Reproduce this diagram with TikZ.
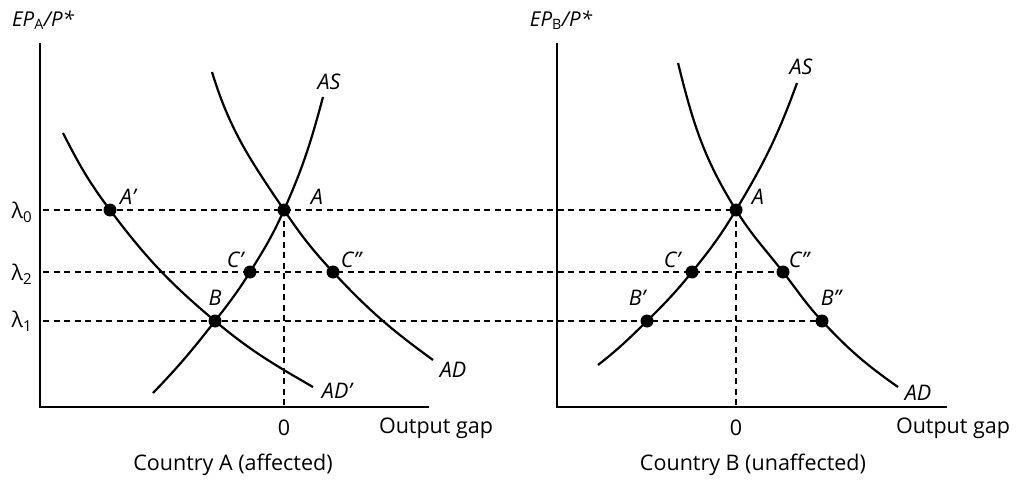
\documentclass[tikz,border=0pt]{standalone}
\usepackage{fontspec}
\setmainfont{Open Sans}
\begin{document}
\begin{tikzpicture}[x=1pt,y=-1pt,
  curve/.style={line width=2.2pt},
  axisline/.style={line width=2pt},
  guide/.style={line width=1.5pt, dash pattern=on 6pt off 4.5pt},
  dot/.style={circle, fill=black, inner sep=0pt, minimum size=13pt},
  lbl/.style={font=\fontsize{21.5}{24}\selectfont\itshape, inner sep=0pt},
  txt/.style={font=\fontsize{21.5}{24}\selectfont, inner sep=0pt},
]
\useasboundingbox (0,0) rectangle (1019,481);

% ---------- coordinates ----------
% left panel
\coordinate (LO) at (40,407);
\coordinate (LYtop) at (40,43);
\coordinate (LXend) at (429,407);
\coordinate (g0) at (43,210);
\coordinate (g2) at (43,272);
\coordinate (g1) at (43,321);
\coordinate (LAfoot) at (284,407);
% right panel
\coordinate (RO) at (557,407);
\coordinate (RYtop) at (557,43);
\coordinate (RXend) at (947,407);
\coordinate (RAfoot) at (736,407);

% curve end points
\coordinate (LASs) at (153,393);
\coordinate (LASe) at (323,97);
\coordinate (LADs) at (212,72);
\coordinate (LADe) at (433,360);
\coordinate (LAD1s) at (63,133);
\coordinate (LAD1e) at (313,387);
\coordinate (RASs) at (598,365);
\coordinate (RASe) at (797,83);
\coordinate (RADs) at (678,63);
\coordinate (RADe) at (898,387);

% dot positions
\coordinate (pLA) at (284,210);
\coordinate (pLA1) at (110,210);
\coordinate (pLC1) at (250,272);
\coordinate (pLC2) at (333,272);
\coordinate (pLB) at (215,321);
\coordinate (pRA) at (736,210);
\coordinate (pRC1) at (692,272);
\coordinate (pRC2) at (783,272);
\coordinate (pRB1) at (647,321);
\coordinate (pRB2) at (822,321);

% ---------- guide lines ----------
\draw[guide] (g0) -- (pRA);
\draw[guide] (g2) -- (pRC2);
\draw[guide] (g1) -- (pRB2);
\draw[guide] (pLA) -- (LAfoot);
\draw[guide] (pRA) -- (RAfoot);

% ---------- axes ----------
\draw[axisline] (LYtop) -- (LO) -- (LXend);
\draw[axisline] (RYtop) -- (RO) -- (RXend);

% ---------- curves ----------
% left AS
\draw[curve] (LASs) to[out=46,in=-128] (pLB) to[out=52,in=-122] (pLC1)
  to[out=58,in=-114] (pLA) to[out=66,in=-105] (LASe);
% left AD
\draw[curve] (LADs) to[out=-73,in=124] (pLA) to[out=-56,in=133] (pLC2)
  to[out=-47,in=144] (LADe);
% left AD'
\draw[curve] (LAD1s) to[out=-63,in=127] (pLA1) to[out=-53,in=140] (pLB)
  to[out=-40,in=150] (LAD1e);
% right AS
\draw[curve] (RASs) to[out=38,in=-135.5] (pRB1) to[out=44.5,in=-129] (pRC1)
  to[out=51,in=-121] (pRA) to[out=59,in=-110] (RASe);
% right AD
\draw[curve] (RADs) to[out=-76,in=122] (pRA) to[out=-58,in=128] (pRC2)
  to[out=-52,in=133] (pRB2) to[out=-47,in=145] (RADe);

% ---------- dots ----------
\node[dot] (LA) at (pLA) {};
\node[dot] (LA1) at (pLA1) {};
\node[dot] (LC1) at (pLC1) {};
\node[dot] (LC2) at (pLC2) {};
\node[dot] (LB) at (pLB) {};
\node[dot] (RA) at (pRA) {};
\node[dot] (RC1) at (pRC1) {};
\node[dot] (RC2) at (pRC2) {};
\node[dot] (RB1) at (pRB1) {};
\node[dot] (RB2) at (pRB2) {};

% ---------- labels ----------
\node[lbl] (tLA1) at (128,197) {A’};
\node[lbl] (tLA) at (317,197) {A};
\node[lbl] (tLC1) at (235,260) {C’};
\node[lbl] (tLC2) at (351,260) {C”};
\node[lbl] (tLB) at (215,298) {B};
\node[lbl] (tLAS) at (329,82) {AS};
\node[lbl] (tLAD) at (453,370) {AD};
\node[lbl] (tLAD1) at (337,391) {AD’};

\node[lbl] (tRA) at (758,197) {A};
\node[lbl] (tRC1) at (672,260) {C’};
\node[lbl] (tRC2) at (799,260) {C”};
\node[lbl] (tRB1) at (637,298) {B’};
\node[lbl] (tRB2) at (831,298) {B”};
\node[lbl] (tRAS) at (801,67) {AS};
\node[lbl] (tRAD) at (918,393) {AD};

\node[txt] (l0) at (22,212) {λ\textsubscript{0}};
\node[txt] (l2) at (22,274) {λ\textsubscript{2}};
\node[txt] (l1) at (22,321) {λ\textsubscript{1}};

\node[lbl, font=\fontsize{20.5}{24}\selectfont\itshape] (yA) at (43,20) {EP\textsubscript{\upshape A}/P*};
\node[lbl, font=\fontsize{20.5}{24}\selectfont\itshape] (yB) at (561,20) {EP\textsubscript{\upshape B}/P*};

\node[txt] (zA) at (284,428) {0};
\node[txt] (zB) at (736,428) {0};
\node[txt] (oA) at (436,428) {Output gap};
\node[txt] (oB) at (953,428) {Output gap};
\node[txt] (cA) at (233,465) {Country A (affected)};
\node[txt] (cB) at (753,465) {Country B (unaffected)};
\end{tikzpicture}
\end{document}
